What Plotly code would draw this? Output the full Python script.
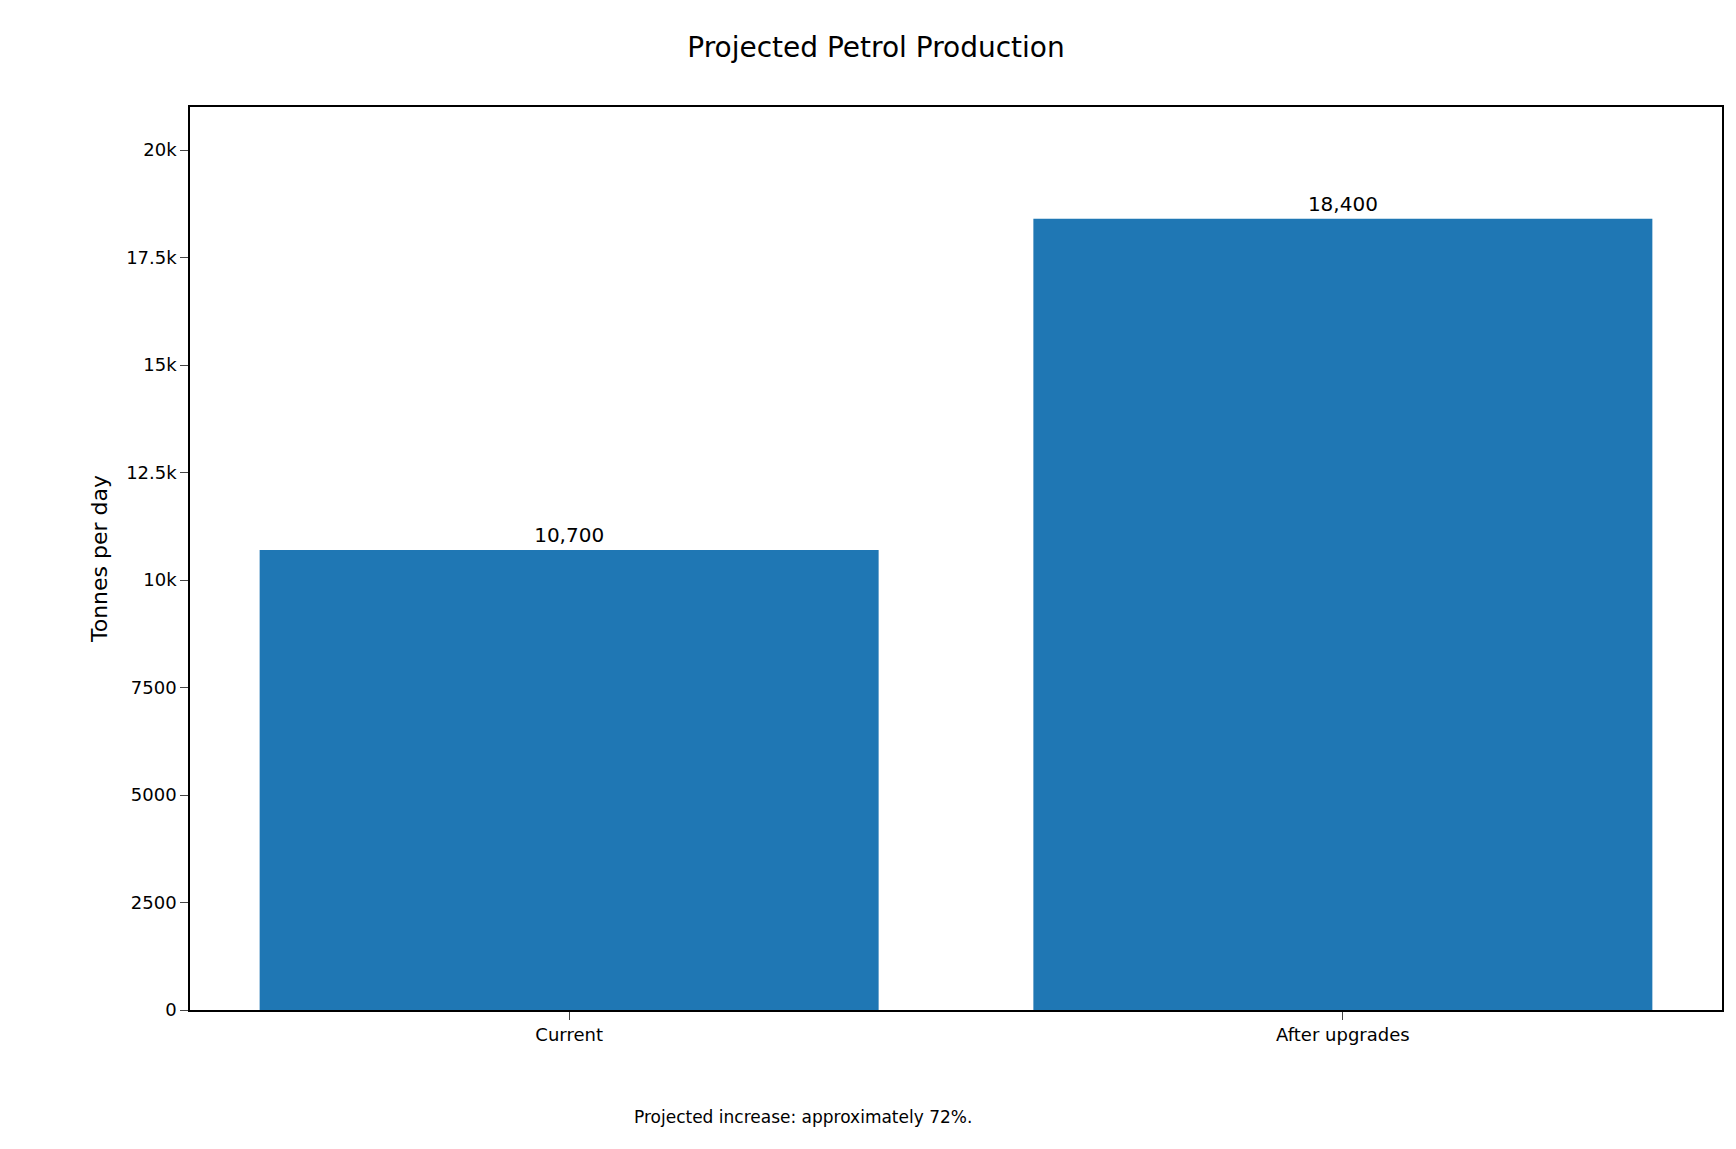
import plotly.graph_objects as go

categories = ["Current", "After upgrades"]
values = [10700, 18400]
labels = ["10,700", "18,400"]

fig = go.Figure(go.Bar(
    x=[0, 1], y=values, width=0.8,
    marker=dict(color="#1f77b4", line=dict(width=0)),
    text=labels, textposition="outside", cliponaxis=False,
    textfont=dict(size=20, color="black"),
))
fig.update_layout(
    width=1736, height=1149,
    paper_bgcolor="white", plot_bgcolor="white",
    font=dict(family="DejaVu Sans", color="black", size=18),
    margin=dict(l=182, r=22, t=99, b=147),
    title=dict(text="Projected Petrol Production", x=0.5, xanchor="center",
               y=0.966, yanchor="middle", font=dict(size=28)),
    showlegend=False,
    bargap=0.2,
)
fig.update_xaxes(range=[-0.49, 1.49], tickvals=[0, 1], ticktext=categories,
                 showline=True, linecolor="black", linewidth=1.5, mirror=True,
                 ticks="outside", ticklen=8, showgrid=False, zeroline=False)
fig.update_yaxes(range=[0, 21000], tickvals=list(range(0, 20001, 2500)),
                 title=dict(text="Tonnes per day", standoff=12),
                 showline=True, linecolor="black", linewidth=1.5, mirror=True,
                 ticks="outside", ticklen=8, showgrid=False, zeroline=False)
fig.add_annotation(text="Projected increase: approximately 72%.", xref="paper", yref="paper",
                   x=0.4, y=-0.105, xanchor="center", yanchor="top", showarrow=False,
                   font=dict(size=17))
fig.write_html("out.html")
